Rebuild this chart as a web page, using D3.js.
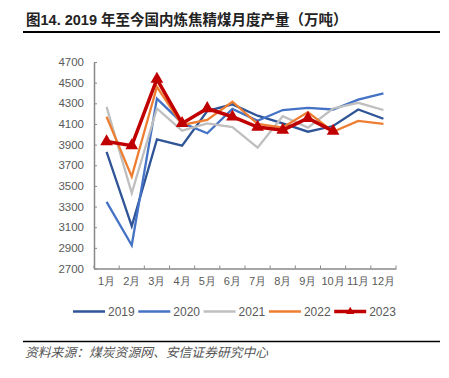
<!DOCTYPE html>
<html>
<head>
<meta charset="utf-8">
<script src="https://cdn.jsdelivr.net/npm/d3@7"></script>
<style>
  body { margin: 0; background: #fff; }
  svg { display: block; font-family: "Liberation Sans", Arial, "Noto Sans CJK SC", sans-serif; }
</style>
</head>
<body>
<svg width="449" height="378"></svg>
<script>
// data
var months = ["1月", "2月", "3月", "4月", "5月", "6月", "7月", "8月", "9月", "10月", "11月", "12月"];
var years = ["2019", "2020", "2021", "2022", "2023"];
var v2019 = [3830, 3110, 3950, 3890, 4225, 4290, 4180, 4105, 4025, 4080, 4240, 4150];
var v2020 = [3345, 2925, 4345, 4110, 4010, 4245, 4130, 4235, 4255, 4240, 4335, 4395];
var v2021 = [4265, 3430, 4250, 4035, 4105, 4070, 3870, 4175, 4065, 4250, 4305, 4235];
var v2022 = [4170, 3590, 4460, 4090, 4140, 4315, 4100, 4065, 4215, 4025, 4130, 4100];
var v2023 = [3930, 3890, 4535, 4105, 4250, 4170, 4070, 4040, 4155, 4030];
var yTicks = [2700, 2900, 3100, 3300, 3500, 3700, 3900, 4100, 4300, 4500, 4700];

var colors = ["#2f5597", "#4472c4", "#bfbfbf", "#ed7d31", "#c00000"];
var series = [v2019, v2020, v2021, v2022, v2023].map(function (vals, i) {
    return { name: years[i], values: vals, color: colors[i] };
});

var svg = d3.select("svg");

// title
svg.append("text")
    .attr("x", 26).attr("y", 25)
    .attr("font-size", "14.5px").attr("font-weight", "bold").attr("fill", "#222")
    .text("图14. 2019 年至今国内炼焦精煤月度产量（万吨）");
svg.append("line")
    .attr("x1", 23).attr("x2", 440).attr("y1", 32).attr("y2", 32)
    .attr("stroke", "#000").attr("stroke-width", 1.8);

var x = d3.scaleBand().domain(months).range([94, 396]).padding(0);
var y = d3.scaleLinear().domain([2700, 4700]).range([268.5, 62]);

// y axis
var yAxis = svg.append("g")
    .attr("transform", "translate(94,0)")
    .call(d3.axisLeft(y).tickValues(yTicks).tickFormat(d3.format("d"))
        .tickSizeInner(-3).tickSizeOuter(0).tickPadding(10));
yAxis.select(".domain").attr("stroke", "#888").attr("stroke-width", 1.5);
yAxis.selectAll(".tick line").attr("stroke", "#888");
yAxis.selectAll("text").attr("font-size", "11.5px").attr("fill", "#595959")
    .attr("font-family", "Liberation Sans, Arial, sans-serif");

// x axis
var xAxis = svg.append("g")
    .attr("transform", "translate(0,268.5)")
    .call(d3.axisBottom(x).tickSize(0).tickPadding(9));
xAxis.select(".domain").attr("stroke", "#888").attr("stroke-width", 1.5);
xAxis.selectAll("text").attr("font-size", "11px").attr("fill", "#595959");
xAxis.selectAll(".bound")
    .data(d3.range(months.length + 1))
    .enter().append("line")
    .attr("class", "bound")
    .attr("x1", function (i) { return x.range()[0] + i * x.bandwidth(); })
    .attr("x2", function (i) { return x.range()[0] + i * x.bandwidth(); })
    .attr("y1", 0).attr("y2", -3)
    .attr("stroke", "#888");

var line = d3.line()
    .x(function (d, i) { return x(months[i]) + x.bandwidth() / 2; })
    .y(function (d) { return y(d); });

svg.selectAll(".series")
    .data(series)
    .enter().append("path")
    .attr("class", "series")
    .attr("fill", "none")
    .attr("stroke", function (d) { return d.color; })
    .attr("stroke-width", function (d) { return d.name === "2023" ? 3.5 : 2.3; })
    .attr("stroke-linejoin", "miter")
    .attr("d", function (d) { return line(d.values); });

var tri = d3.symbol().type(d3.symbolTriangle).size(70);
svg.selectAll(".mark")
    .data(v2023)
    .enter().append("path")
    .attr("class", "mark")
    .attr("transform", function (d, i) {
        return "translate(" + (x(months[i]) + x.bandwidth() / 2) + "," + y(d) + ")";
    })
    .attr("d", tri)
    .attr("fill", "#c00000");

// legend
var legend = svg.selectAll(".legend")
    .data(series)
    .enter().append("g")
    .attr("class", "legend")
    .attr("transform", function (d, i) { return "translate(" + (73 + i * 65.3) + ",311.5)"; });
legend.append("line")
    .attr("x1", 0).attr("x2", 32).attr("y1", 0).attr("y2", 0)
    .attr("stroke", function (d) { return d.color; })
    .attr("stroke-width", function (d) { return d.name === "2023" ? 3.5 : 2.5; });
legend.filter(function (d) { return d.name === "2023"; })
    .append("path")
    .attr("transform", "translate(16,0)")
    .attr("d", d3.symbol().type(d3.symbolTriangle).size(30))
    .attr("fill", "#c00000");
legend.append("text")
    .attr("x", 35).attr("y", 4.5)
    .attr("font-size", "12px").attr("fill", "#595959")
    .text(function (d) { return d.name; });

// source
svg.append("line")
    .attr("x1", 23).attr("x2", 440).attr("y1", 341.5).attr("y2", 341.5)
    .attr("stroke", "#000").attr("stroke-width", 1.5);
svg.append("text")
    .attr("x", 25).attr("y", 357)
    .attr("font-size", "12.8px").attr("font-style", "italic").attr("fill", "#555")
    .text("资料来源：煤炭资源网、安信证券研究中心");
</script>
</body>
</html>
